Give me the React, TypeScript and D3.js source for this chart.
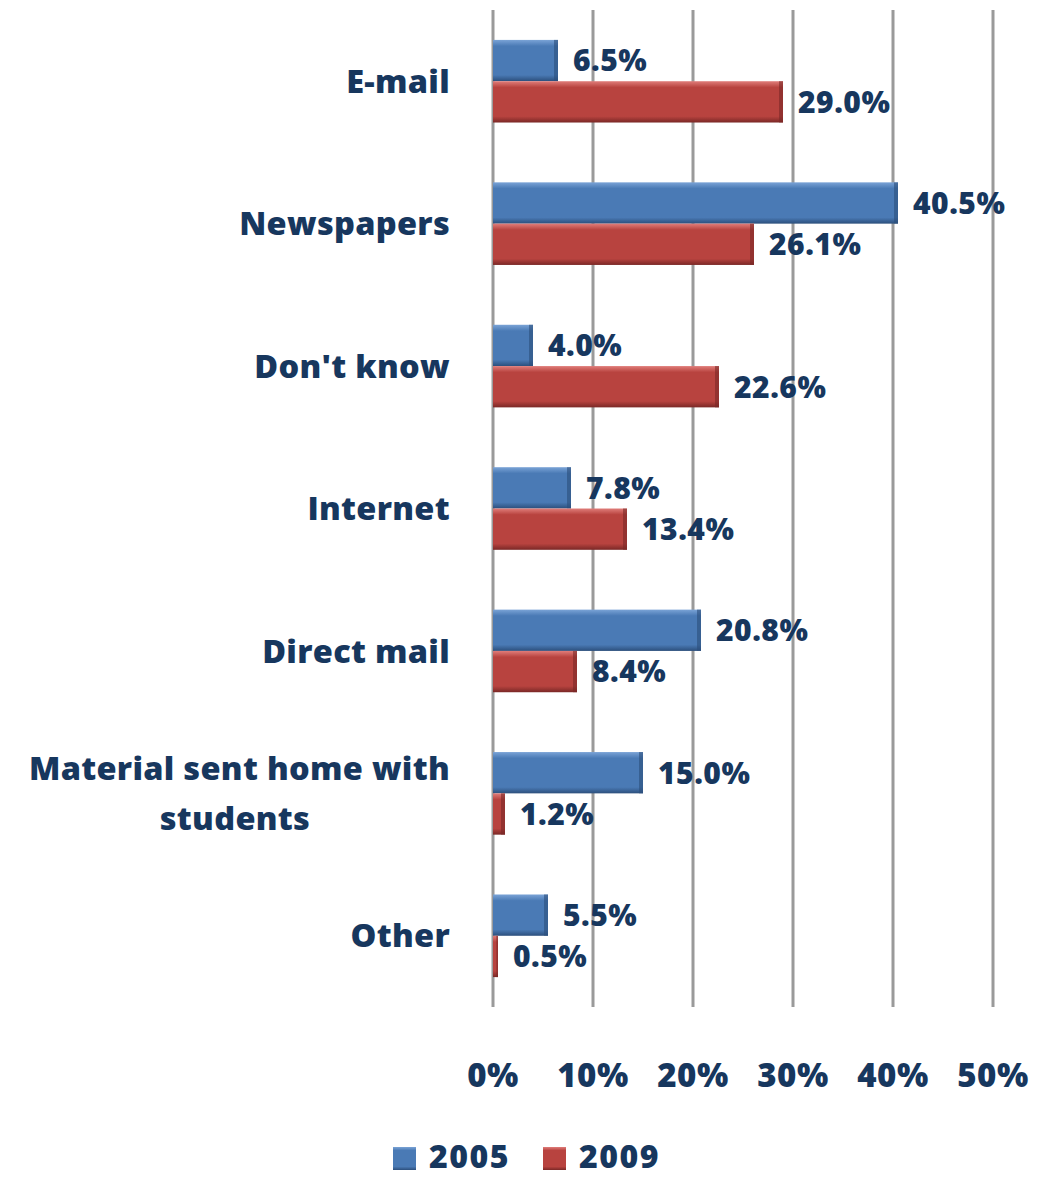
import React from "react";
import * as d3 from "d3";

const categories = ["E-mail", "Newspapers", "Don't know", "Internet", "Direct mail", "Material sent home with students", "Other"];
const categoryLines = [["E-mail"], ["Newspapers"], ["Don't know"], ["Internet"], ["Direct mail"], ["Material sent home with", "students"], ["Other"]];
const series2005 = [6.5, 40.5, 4.0, 7.8, 20.8, 15.0, 5.5];
const series2009 = [29.0, 26.1, 22.6, 13.4, 8.4, 1.2, 0.5];
const seriesNames = ["2005", "2009"];
const tickValues = [0, 10, 20, 30, 40, 50];

const W = 1043, H = 1178;
const left = 493, right = 993, top = 10, bottom = 1007;
const navy = "#17375E";
const font = "'Open Sans', Lato, sans-serif";

export default function App() {
  const x = d3.scaleLinear().domain([0, 50]).range([left, right]);
  const y = d3.scaleBand().domain(categories).range([top, bottom]).paddingInner(0.42).paddingOuter(0.21);
  const sub = d3.scaleBand().domain(seriesNames).range([0, y.bandwidth()]);
  const colors: Record<string, [string, string, string]> = {
    "2005": ["#7aa3d6", "#4a7ab5", "#2c4f7c"],
    "2009": ["#e07d7a", "#b8433f", "#7a2826"],
  };
  const data = categories.map((c, i) => ({ c, vals: [series2005[i], series2009[i]] }));
  return (
    <svg width={W} height={H} style={{ position: "absolute", left: 0, top: 0, background: "#fff" }}>
      <defs>
        {seriesNames.map((s) => (
          <linearGradient key={s} id={"g" + s} x1="0" y1="0" x2="0" y2="1">
            <stop offset="0" stopColor={colors[s][0]} />
            <stop offset="0.15" stopColor={colors[s][1]} />
            <stop offset="0.85" stopColor={colors[s][1]} />
            <stop offset="1" stopColor={colors[s][2]} />
          </linearGradient>
        ))}
      </defs>
      {tickValues.map((t) => (
        <line key={t} x1={x(t)} x2={x(t)} y1={top} y2={bottom} stroke="#9a9a9a" strokeWidth={3} />
      ))}
      {data.map((d, i) => {
        const cy = (y(d.c) as number) + y.bandwidth() / 2;
        const lines = categoryLines[i];
        return (
          <g key={d.c}>
            {d.vals.map((v, j) => {
              const s = seriesNames[j];
              const y0 = (y(d.c) as number) + (sub(s) as number);
              const h = sub.bandwidth();
              const w = x(v) - x(0);
              return (
                <g key={s}>
                  <rect x={x(0)} y={y0} width={w} height={h} fill={`url(#g${s})`} />
                  <rect x={x(v) - Math.min(4, w / 3)} y={y0} width={Math.min(4, w / 3)} height={h} fill={colors[s][2]} opacity={0.6} />
                  <text x={x(v) + 15} y={y0 + h / 2} dy="0.36em" fontFamily={font} fontWeight={800} fontSize={30} letterSpacing={0.5} fill={navy}>
                    {v.toFixed(1) + "%"}
                  </text>
                </g>
              );
            })}
            {lines.map((ln, k) => {
              const ty = lines.length === 1 ? cy : cy - 25 + k * 50;
              return (
                <text key={k} x={k === 0 ? 450 : 235} y={ty} dy="0.36em" textAnchor={k === 0 ? "end" : "middle"}
                  fontFamily={font} fontWeight={800} fontSize={32.5} letterSpacing={0.3} fill={navy}>
                  {ln}
                </text>
              );
            })}
          </g>
        );
      })}
      {tickValues.map((t) => (
        <text key={t} x={x(t)} y={1075} dy="0.36em" textAnchor="middle" fontFamily={font} fontWeight={800} fontSize={33} letterSpacing={0.5} fill={navy}>
          {t + "%"}
        </text>
      ))}
      {seriesNames.map((s, j) => {
        const lx = 393 + j * 150;
        return (
          <g key={s}>
            <rect x={lx} y={1147} width={23} height={23} fill={`url(#g${s})`} />
            <text x={lx + 36} y={1168} fontFamily={font} fontWeight={800} fontSize={32} letterSpacing={1.5} fill={navy}>{s}</text>
          </g>
        );
      })}
    </svg>
  );
}
